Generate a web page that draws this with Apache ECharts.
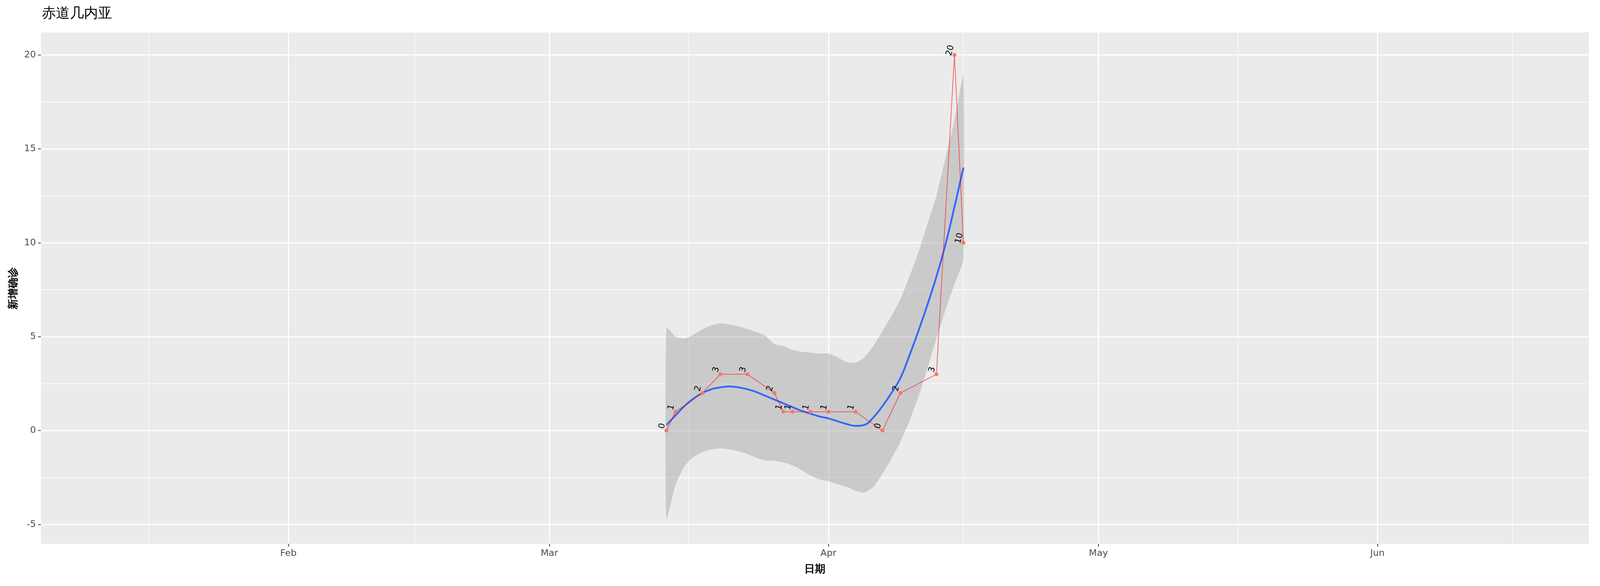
<!DOCTYPE html>
<html><head><meta charset="utf-8">
<script src="https://cdn.jsdelivr.net/npm/echarts@6/dist/echarts.min.js"></script>
<style>html,body{margin:0;padding:0;background:#fff;overflow:hidden}#c{width:100vw;height:100vh}</style>
</head><body><div id="c"></div>
<script>
const pointDates = ['2020-03-14','2020-03-15','2020-03-18','2020-03-20','2020-03-23','2020-03-26','2020-03-27','2020-03-28','2020-03-30','2020-04-01','2020-04-04','2020-04-07','2020-04-09','2020-04-13','2020-04-15','2020-04-16'];
const pointValues = [0,1,2,3,3,2,1,1,1,1,1,0,2,3,20,10];
const fitStart = '2020-03-14';
const fitValues = [0.3,0.8,1.3,1.7,2.0,2.2,2.3,2.35,2.3,2.2,2.05,1.85,1.65,1.45,1.25,1.05,0.9,0.75,0.65,0.5,0.35,0.25,0.3,0.7,1.3,2.0,2.8,4.0,5.3,6.7,8.2,9.9,11.9,14.0];
const fitUpper = [5.5,5.0,4.9,5.1,5.4,5.6,5.7,5.65,5.55,5.4,5.25,5.05,4.6,4.5,4.3,4.2,4.15,4.1,4.1,3.9,3.65,3.6,3.9,4.5,5.3,6.1,7.0,8.2,9.5,11.0,12.5,14.5,16.5,18.9];
const fitLower = [-4.7,-2.9,-1.9,-1.4,-1.15,-1.0,-0.95,-1.0,-1.1,-1.25,-1.45,-1.6,-1.6,-1.7,-1.85,-2.1,-2.4,-2.6,-2.7,-2.85,-3.0,-3.2,-3.3,-3.0,-2.3,-1.5,-0.6,0.5,1.8,3.3,4.9,6.4,7.8,9.1];
const monthTicks = ['2020-02-01','2020-03-01','2020-04-01','2020-05-01','2020-06-01'];
const monthLabels = ['Feb','Mar','Apr','May','Jun'];
const minorTicks = ['2020-01-16T12:00','2020-02-15','2020-03-16T12:00','2020-04-16','2020-05-16T12:00','2020-06-16'];
const yTicks = [-5,0,5,10,15,20];
const yMinor = [-2.5,2.5,7.5,12.5,17.5];
const title = '赤道几内亚', xName = '日期', yName = '新增确诊';

const t = s => Date.parse(s + (s.length===10 ? 'T00:00:00Z' : ':00Z'));
const DAY = 86400000;
const fx = i => t(fitStart) + i*DAY;
const upperData = fitUpper.map((v,i)=>[fx(i),v]);
const lowerData = fitLower.map((v,i)=>[fx(i),v]);
const fitData = fitValues.map((v,i)=>[fx(i),v]);
const ptsData = pointDates.map((d,i)=>[t(d),pointValues[i]]);
const xMin = t('2020-01-04T12:00'), xMax = t('2020-06-24T12:00');
const F = 'DejaVu Sans';
const chart = echarts.init(document.getElementById('c'));
const s = chart.getWidth()/4500;
const monthMs = monthTicks.map(t);
chart.setOption({
  animation:false,
  backgroundColor:'#fff',
  title:{text:title,left:112*s,top:14*s,textStyle:{fontFamily:F,fontSize:40*s,fontWeight:'normal',color:'#000'}},
  grid:{left:(115/4500*100)+'%',right:(31/4500*100)+'%',top:(83/1500*100)+'%',bottom:(108/1500*100)+'%',backgroundColor:'#EBEBEB',show:true,borderWidth:0},
  xAxis:{type:'value',min:xMin,max:xMax,name:xName,nameLocation:'middle',nameGap:58*s,
    nameTextStyle:{fontFamily:F,fontSize:30*s,fontWeight:'bold',color:'#000'},
    axisLine:{show:false,onZero:false},splitLine:{show:false},
    axisTick:{show:true,customValues:monthMs,length:8*s,lineStyle:{color:'#333',width:2*s}},
    axisLabel:{customValues:monthMs,fontFamily:F,fontSize:26*s,color:'#4D4D4D',margin:14*s,
      formatter:v=>monthLabels[monthMs.indexOf(v)]||''}},
  yAxis:{type:'value',min:-6.03,max:21.2,name:yName,nameLocation:'middle',nameGap:62*s,
    nameTextStyle:{fontFamily:F,fontSize:30*s,fontWeight:'bold',color:'#000'},
    axisLine:{show:false,onZero:false},splitLine:{show:false},
    axisTick:{show:true,customValues:yTicks,length:8*s,lineStyle:{color:'#333',width:2*s}},
    axisLabel:{customValues:yTicks,fontFamily:F,fontSize:26*s,color:'#4D4D4D',margin:14*s}},
  series:[
    {type:'line',data:[],silent:true,z:0,
      markLine:{symbol:'none',silent:true,label:{show:false},animation:false,z:0,
        data:[
          ...minorTicks.map(d=>({xAxis:t(d),lineStyle:{color:'#fff',width:1.5*s,type:'solid'}})),
          ...yMinor.map(v=>({yAxis:v,lineStyle:{color:'#fff',width:1.5*s,type:'solid'}})),
          ...monthTicks.map(d=>({xAxis:t(d),lineStyle:{color:'#fff',width:3.5*s,type:'solid'}})),
          ...yTicks.map(v=>({yAxis:v,lineStyle:{color:'#fff',width:3.5*s,type:'solid'}}))
        ]}},
    {type:'custom',z:2,silent:true,data:[0],
      renderItem:(params,api)=>{
        const pts = upperData.map(p=>api.coord(p)).concat(lowerData.slice().reverse().map(p=>api.coord(p)));
        return {type:'polygon',shape:{points:pts,smooth:0.15},style:{fill:'rgba(153,153,153,0.4)'}};
      }},
    {type:'line',data:ptsData,symbol:'circle',symbolSize:11*s,z:5,
      itemStyle:{color:'#F8766D'},lineStyle:{color:'#FF0000',width:2*s,opacity:0.6},
      label:{show:true,rotate:75,position:'top',distance:4*s,fontFamily:F,fontSize:24*s,color:'#000',align:'center'}},
    {type:'line',data:fitData,smooth:0.4,symbol:'none',z:4,lineStyle:{color:'#3366FF',width:5*s}}
  ]
});
</script></body></html>
